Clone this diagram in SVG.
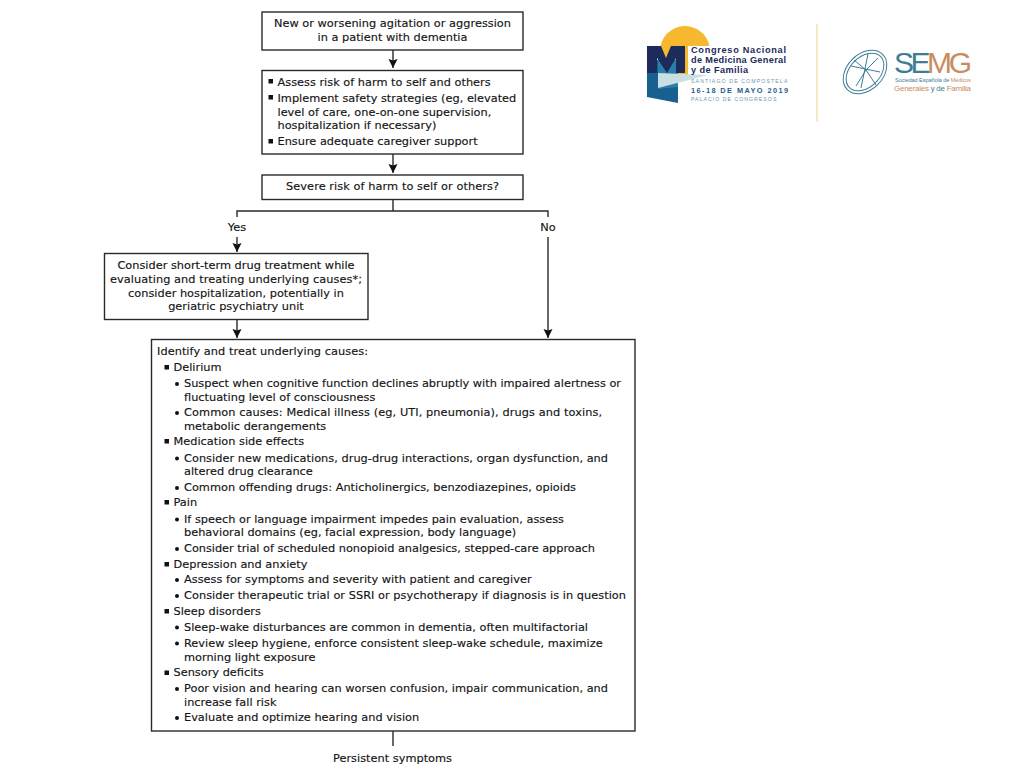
<svg xmlns="http://www.w3.org/2000/svg" width="1024" height="768" viewBox="0 0 1024 768">
<defs>
<marker id="arrow" markerUnits="userSpaceOnUse" markerWidth="10" markerHeight="11" refX="9" refY="5" orient="auto"><path d="M0,0.500 L9,5 L0,9.500 L1.500,5 Z" fill="#111"/></marker>
</defs>
<style>
text{font-family:"DejaVu Sans",Verdana,sans-serif;font-size:11.33px;fill:#151515;stroke:#151515;stroke-width:.15px}
.c{text-anchor:middle}
.box{fill:#fff;stroke:#2a2a2a;stroke-width:1.4}
.ln{fill:none;stroke:#2a2a2a;stroke-width:1.4}
.b{fill:#111}
text.t1{font-family:"Liberation Sans",Arial,sans-serif;font-size:9.2px;font-weight:700;fill:#1c2b5c;stroke:none}
text.t2{font-family:"Liberation Sans",Arial,sans-serif;font-size:5.2px;letter-spacing:.65px;fill:#6d98ad;stroke:none}
text.t3{font-family:"Liberation Sans",Arial,sans-serif;font-size:7.4px;font-weight:700;letter-spacing:.95px;fill:#1f5f8f;stroke:none}
text.s1{font-family:"Liberation Sans",Arial,sans-serif;font-size:30px;fill:#3f7d94;stroke:none}
text.s2{font-family:"Liberation Sans",Arial,sans-serif;font-size:5.6px;fill:#3f7d94;stroke:none}
text.s3{font-family:"Liberation Sans",Arial,sans-serif;font-size:8px;fill:#c98c5e;stroke:none}
.o{fill:#c98c5e}
.t{fill:#3f7d94}
</style>
<rect width="1024" height="768" fill="#fff"/>
<g id="connectors">
<path class="ln" d="M393,50 V68" marker-end="url(#arrow)"/>
<path class="ln" d="M393,154 V173" marker-end="url(#arrow)"/>
<path class="ln" d="M393,199.500 V211 M237,217 V211 H548 V217"/>
<path class="ln" d="M237,237 V252" marker-end="url(#arrow)"/>
<path class="ln" d="M237,319.500 V338" marker-end="url(#arrow)"/>
<path class="ln" d="M548,237 V338" marker-end="url(#arrow)"/>
<path class="ln" d="M393,731 V746"/>
</g>
<g id="node-start">
<rect class="box" x="262" y="12" width="261" height="38"/>
<text class="c" x="392.500" y="27" textLength="237">New or worsening agitation or aggression</text>
<text class="c" x="392.500" y="41">in a patient with dementia</text>
</g>
<g id="node-assess">
<rect class="box" x="262" y="70.500" width="261" height="83.500"/>
<rect class="b" x="268.500" y="79" width="4.500" height="4.500"/>
<text x="277.500" y="86">Assess risk of harm to self and others</text>
<rect class="b" x="268.500" y="95" width="4.500" height="4.500"/>
<text x="277.500" y="102">Implement safety strategies (eg, elevated</text>
<text x="277.500" y="115.500">level of care, one-on-one supervision,</text>
<text x="277.500" y="129">hospitalization if necessary)</text>
<rect class="b" x="268.500" y="139" width="4.500" height="4.500"/>
<text x="277.500" y="145">Ensure adequate caregiver support</text>
</g>
<g id="node-severe">
<rect class="box" x="262" y="175" width="261" height="24.500"/>
<text class="c" x="392.500" y="190" textLength="213">Severe risk of harm to self or others?</text>
</g>
<g id="label-yes"><text class="c" x="237" y="230.500">Yes</text></g>
<g id="label-no"><text class="c" x="548" y="230.500">No</text></g>
<g id="node-drug">
<rect class="box" x="104.500" y="253.500" width="263.500" height="66"/>
<text class="c" x="236" y="269">Consider short-term drug treatment while</text>
<text class="c" x="236" y="283" textLength="252">evaluating and treating underlying causes*;</text>
<text class="c" x="236" y="296.500">consider hospitalization, potentially in</text>
<text class="c" x="236" y="310">geriatric psychiatry unit</text>
</g>
<g id="node-causes">
<rect class="box" x="151.500" y="339.500" width="483.500" height="391.500"/>
<text x="157" y="355" textLength="211">Identify and treat underlying causes:</text>
<g class="b">
<rect x="164.500" y="365" width="4.500" height="4.500"/>
<rect x="164.500" y="439" width="4.500" height="4.500"/>
<rect x="164.500" y="500" width="4.500" height="4.500"/>
<rect x="164.500" y="562" width="4.500" height="4.500"/>
<rect x="164.500" y="609" width="4.500" height="4.500"/>
<rect x="164.500" y="670.500" width="4.500" height="4.500"/>
<circle cx="177" cy="384" r="2"/>
<circle cx="177" cy="413" r="2"/>
<circle cx="177" cy="458.500" r="2"/>
<circle cx="177" cy="488" r="2"/>
<circle cx="177" cy="519.500" r="2"/>
<circle cx="177" cy="549" r="2"/>
<circle cx="177" cy="580" r="2"/>
<circle cx="177" cy="596" r="2"/>
<circle cx="177" cy="627.500" r="2"/>
<circle cx="177" cy="643.500" r="2"/>
<circle cx="177" cy="689" r="2"/>
<circle cx="177" cy="718" r="2"/>
</g>
<text x="173.500" y="371">Delirium</text>
<text x="184" y="387" textLength="437">Suspect when cognitive function declines abruptly with impaired alertness or</text>
<text x="184" y="400.500">fluctuating level of consciousness</text>
<text x="184" y="416" textLength="418">Common causes: Medical illness (eg, UTI, pneumonia), drugs and toxins,</text>
<text x="184" y="430">metabolic derangements</text>
<text x="173.500" y="445">Medication side effects</text>
<text x="184" y="461.500" textLength="424">Consider new medications, drug-drug interactions, organ dysfunction, and</text>
<text x="184" y="475">altered drug clearance</text>
<text x="184" y="491" textLength="392">Common offending drugs: Anticholinergics, benzodiazepines, opioids</text>
<text x="173.500" y="506">Pain</text>
<text x="184" y="522.500">If speech or language impairment impedes pain evaluation, assess</text>
<text x="184" y="536">behavioral domains (eg, facial expression, body language)</text>
<text x="184" y="552" textLength="411">Consider trial of scheduled nonopioid analgesics, stepped-care approach</text>
<text x="173.500" y="568">Depression and anxiety</text>
<text x="184" y="583">Assess for symptoms and severity with patient and caregiver</text>
<text x="184" y="599" textLength="442">Consider therapeutic trial or SSRI or psychotherapy if diagnosis is in question</text>
<text x="173.500" y="615">Sleep disorders</text>
<text x="184" y="631" textLength="404">Sleep-wake disturbances are common in dementia, often multifactorial</text>
<text x="184" y="647">Review sleep hygiene, enforce consistent sleep-wake schedule, maximize</text>
<text x="184" y="660.500">morning light exposure</text>
<text x="173.500" y="676">Sensory deficits</text>
<text x="184" y="692" textLength="424">Poor vision and hearing can worsen confusion, impair communication, and</text>
<text x="184" y="705.500">increase fall risk</text>
<text x="184" y="721">Evaluate and optimize hearing and vision</text>
</g>
<g id="label-persistent"><text class="c" x="392.500" y="762" textLength="119">Persistent symptoms</text></g>
<g id="logo-congreso">
<circle cx="685" cy="51" r="25" fill="#f5b82e"/>
<rect x="688" y="46" width="25" height="31" fill="#fff"/>
<path d="M647,60 L678,60 L678,103 L647,97 Z" fill="#17608f"/>
<path d="M658,60 L678,60 L678,87 L658,89 Z" fill="#2a7eaa"/>
<path d="M658,73 L708,75 L658,88 Z" fill="#c9dfe1"/>
<path d="M647,46 H661 L666,58 L671,46 H685 V73 H676 V58 L667,73 L657,58 V73 H647 Z" fill="#1c2b5c"/>
<text class="t1" x="691" y="53" textLength="95">Congreso Nacional</text>
<text class="t1" x="691" y="63" textLength="95">de Medicina General</text>
<text class="t1" x="691" y="73" textLength="57">y de Familia</text>
<text class="t2" x="691" y="83" textLength="97">SANTIAGO DE COMPOSTELA</text>
<text class="t3" x="691" y="93" textLength="98">16-18 DE MAYO 2019</text>
<text class="t2" x="691" y="101" textLength="86">PALACIO DE CONGRESOS</text>
</g>
<path id="logo-divider" d="M817,24 V122" stroke="#f3e3b4" stroke-width="1.500" fill="none"/>
<g id="logo-semg">
<g fill="none" stroke="#3f7d94" stroke-width="1">
<ellipse cx="865" cy="72" rx="25" ry="18" transform="rotate(-45 865 72)"/>
<ellipse cx="865" cy="72" rx="22" ry="15" transform="rotate(-45 865 72)"/>
<path d="M868,54 L861,88 M851,66 L880,72 M856,86 L866,70 L876,85 M854,60 L866,70 L878,58"/>
</g>
<text class="s1" x="894" y="73" textLength="78">SE<tspan class="o">MG</tspan></text>
<text class="s2" x="895" y="81.500" textLength="76">Sociedad Española de <tspan class="o">Médicos</tspan></text>
<text class="s3" x="894" y="90.500" textLength="77">Generales <tspan class="t">y de</tspan> Familia</text>
</g>
</svg>
